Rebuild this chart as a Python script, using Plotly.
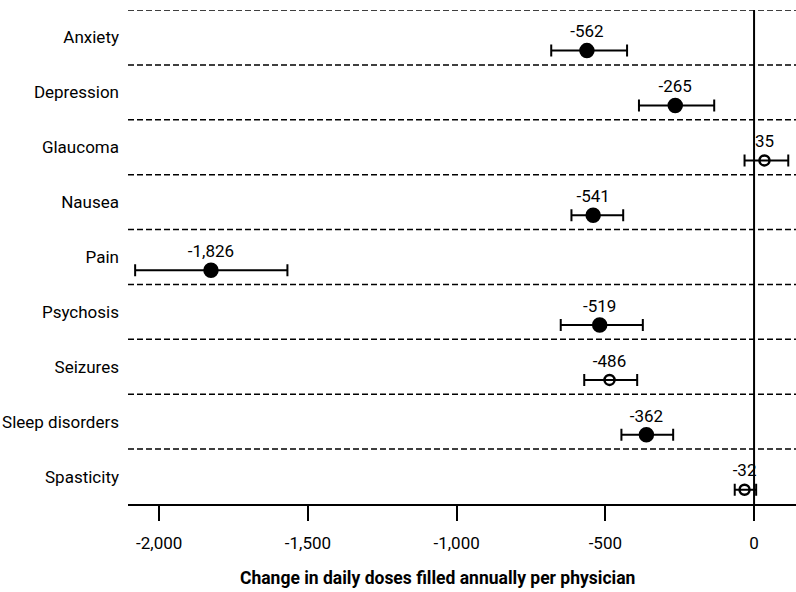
import plotly.graph_objects as go

categories = ["Anxiety", "Depression", "Glaucoma", "Nausea", "Pain",
              "Psychosis", "Seizures", "Sleep disorders", "Spasticity"]
estimates = [-562, -265, 35, -541, -1826, -519, -486, -362, -32]
lower = [-682, -387, -32, -614, -2081, -650, -571, -446, -65]
upper = [-427, -134, 115, -440, -1569, -374, -393, -272, 7]
significant = [True, True, False, True, True, True, False, True, False]
value_labels = ["-562", "-265", "35", "-541", "-1,826", "-519", "-486", "-362", "-32"]
tick_values = [-2000, -1500, -1000, -500, 0]
tick_labels = ["-2,000", "-1,500", "-1,000", "-500", "0"]
x_title = "Change in daily doses filled annually per physician"

FONT = "Roboto, Noto Sans, sans-serif"

rows = list(range(len(categories)))
pt_y = [r + 0.24 for r in rows]
lab_y = [r - 0.08 for r in rows]

fig = go.Figure()

# dashed separators
for r in rows:
    fig.add_shape(type="line", xref="paper", yref="y", x0=0, x1=1,
                  y0=r - 0.5, y1=r - 0.5,
                  line=dict(color="black", width=1.5, dash="6px,3px"), layer="below")

# zero line
fig.add_shape(type="line", xref="x", yref="y", x0=0, x1=0, y0=-0.5, y1=8.5,
              line=dict(color="black", width=2))

for filled in (True, False):
    idx = [i for i in rows if significant[i] == filled]
    fig.add_trace(go.Scatter(
        x=[estimates[i] for i in idx],
        y=[pt_y[i] for i in idx],
        mode="markers",
        marker=dict(symbol="circle" if filled else "circle-open",
                    size=13 if filled else 10,
                    color="black",
                    line=dict(color="black", width=2.5)),
        error_x=dict(type="data", symmetric=False,
                     array=[upper[i] - estimates[i] for i in idx],
                     arrayminus=[estimates[i] - lower[i] for i in idx],
                     color="black", thickness=2, width=6),
        showlegend=False, hoverinfo="skip", cliponaxis=False,
    ))

fig.add_trace(go.Scatter(
    x=estimates, y=lab_y, mode="text", text=value_labels,
    textposition="middle center",
    textfont=dict(family=FONT, size=17, color="black"),
    showlegend=False, hoverinfo="skip", cliponaxis=False,
))

fig.add_annotation(text="<b>" + x_title + "</b>", xref="paper", yref="paper",
                   x=0.4633, y=0, xanchor="center", yanchor="middle", yshift=-74,
                   showarrow=False, font=dict(family=FONT, size=17.5, color="black"))

fig.update_layout(
    width=796, height=592,
    margin=dict(l=128, r=0, t=10, b=88, autoexpand=False),
    plot_bgcolor="white", paper_bgcolor="white",
    font=dict(family=FONT, color="black"),
    xaxis=dict(range=[-2105, 141], tickvals=tick_values, ticktext=tick_labels,
               automargin=False,
               showgrid=False, zeroline=False, showline=True, linecolor="black",
               linewidth=2, ticks="outside", ticklen=15, tickwidth=2,
               tickcolor="black", tickfont=dict(size=17), ticklabelstandoff=8),
    yaxis=dict(range=[8.5, -0.5], tickvals=rows, ticktext=categories,
               automargin=False,
               showgrid=False, zeroline=False, showline=False, ticks="",
               tickfont=dict(size=17), ticklabelstandoff=8),
)

fig.write_html("out.html", config={"displayModeBar": False},
               post_script="document.body.style.margin='0';document.body.style.overflow='hidden';")
